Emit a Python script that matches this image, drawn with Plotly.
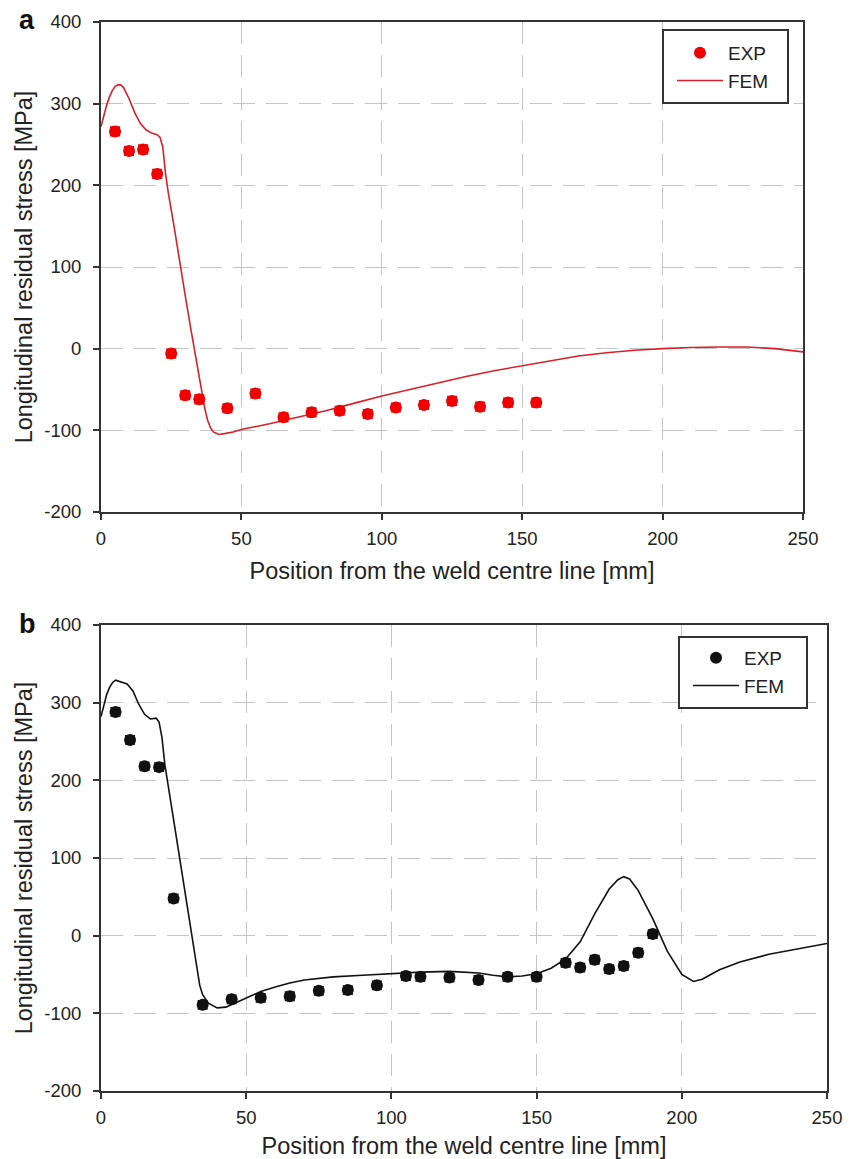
import plotly.graph_objects as go

W, H = 856, 1159

# ---------------- data: panel a ----------------
a_exp_x = [5, 10, 15, 20, 25, 30, 35, 45, 55, 65, 75, 85, 95, 105, 115, 125, 135, 145, 155]
a_exp_y = [266, 242, 244, 214, -6, -57, -62, -73, -55, -84, -78, -76, -80, -72, -69, -64, -71, -66, -66]
a_exp_err = [5] * len(a_exp_x)

a_fem_x = [0, 1, 2, 3, 4, 5, 6, 7, 8, 10, 12, 14, 16, 18, 20, 21, 22, 23, 24, 26, 28, 30, 32, 34, 36, 37, 38, 39, 40,
           42, 44, 47, 50, 60, 70, 80, 90, 100, 110, 120, 130, 140, 150, 160, 170, 180, 190, 200, 210, 220, 230, 240,
           250]
a_fem_y = [272, 286, 298, 308, 316, 321, 323, 323, 320, 306, 289, 276, 268, 264, 262, 259, 247, 214, 190, 150, 106,
           65, 24, -16, -57, -74, -88, -97, -102, -105, -104, -102, -99, -92, -84, -76, -67, -58, -50, -42, -34, -27,
           -21, -15, -9, -5, -2, 0, 1.5, 2, 2, 0, -4]

# ---------------- data: panel b ----------------
b_exp_x = [5, 10, 15, 20, 25, 35, 45, 55, 65, 75, 85, 95, 105, 110, 120, 130, 140, 150, 160, 165, 170, 175, 180, 185, 190]
b_exp_y = [288, 252, 218, 217, 48, -89, -82, -80, -78, -71, -70, -64, -52, -53, -54, -57, -53, -53, -35, -41, -31, -43,
           -39, -22, 2]
b_exp_err = [5] * len(b_exp_x)

b_fem_x = [0, 1, 2, 3, 4, 5, 7, 9, 11, 13, 15, 17, 19, 20, 21, 22, 24, 26, 28, 30, 31, 32, 33, 34, 35, 37, 40, 43, 46,
           50, 55, 60, 65, 70, 80, 90, 100, 110, 120, 130, 135, 140, 145, 150, 155, 160, 165, 170, 175, 178, 180, 182,
           185, 190, 195, 200, 204, 207, 213, 220, 230, 240, 250]
b_fem_y = [282, 298, 311, 320, 326, 329, 327, 324, 315, 298, 285, 279, 280, 275, 255, 220, 173, 125, 78, 30, 5, -20,
           -45, -64, -76, -87, -93, -92, -87, -80, -72, -66, -61, -57, -53, -51, -49, -47, -46, -48, -51, -53, -52,
           -49, -42, -30, -8, 28, 60, 72, 76, 73, 58, 22, -20, -50, -59, -56, -44, -34, -24, -17, -10]

x_ticks = [0, 50, 100, 150, 200, 250]
x_tick_labels = ["0", "50", "100", "150", "200", "250"]
y_ticks = [-200, -100, 0, 100, 200, 300, 400]
y_tick_labels = ["-200", "-100", "0", "100", "200", "300", "400"]

FONT = "Liberation Sans, Arial, sans-serif"
RED_PT = "#f00000"
RED_LN = "#d8202a"
BLK = "#111111"

fig = go.Figure()

fig.add_trace(go.Scatter(x=a_fem_x, y=a_fem_y, mode="lines", name="FEM", line=dict(color=RED_LN, width=1.6),
                         xaxis="x", yaxis="y", legend="legend", legendrank=2))
fig.add_trace(go.Scatter(x=a_exp_x, y=a_exp_y, mode="markers", name="EXP",
                         marker=dict(color=RED_PT, size=12, line=dict(width=0)),
                         error_y=dict(type="data", array=a_exp_err, color=RED_PT, thickness=2, width=5),
                         xaxis="x", yaxis="y", legend="legend", legendrank=1))

fig.add_trace(go.Scatter(x=b_fem_x, y=b_fem_y, mode="lines", name="FEM", line=dict(color=BLK, width=1.6),
                         xaxis="x2", yaxis="y2", legend="legend2", legendrank=2))
fig.add_trace(go.Scatter(x=b_exp_x, y=b_exp_y, mode="markers", name="EXP",
                         marker=dict(color=BLK, size=12, line=dict(width=0)),
                         error_y=dict(type="data", array=b_exp_err, color=BLK, thickness=2, width=5),
                         xaxis="x2", yaxis="y2", legend="legend2", legendrank=1))

def px_x(p):
    return p / W

def px_y(p):
    return 1 - p / H

axis_common = dict(
    showline=True, linecolor="#333333", linewidth=2, mirror=True, automargin=False,
    ticks="outside", ticklen=6, tickwidth=2, tickcolor="#333333",
    showgrid=True, gridcolor="#c4c4c4", gridwidth=1.3, griddash="22px,11px",
    zeroline=False, tickfont=dict(family=FONT, size=18.5, color="#222222"),
    title_font=dict(family=FONT, size=23.5, color="#222222"),
)

xa = dict(axis_common, range=[0, 250], tickmode="array", tickvals=x_ticks, ticktext=x_tick_labels,
          ticklabelstandoff=3, title_standoff=14, title_text="Position from the weld centre line [mm]")
ya = dict(axis_common, range=[-200, 400], tickmode="array", tickvals=y_ticks, ticktext=y_tick_labels,
          ticklabelstandoff=8, title_standoff=5, title_text="Longitudinal residual stress [MPa]")

leg_font = dict(family=FONT, size=19, color="#222222")

fig.update_layout(
    width=W, height=H, margin=dict(l=0, r=0, t=0, b=0, autoexpand=False),
    paper_bgcolor="white", plot_bgcolor="white",
    font=dict(family=FONT, color="#222222"),
    xaxis=dict(xa, domain=[px_x(101), px_x(803)], anchor="y"),
    yaxis=dict(ya, domain=[px_y(512), px_y(22)], anchor="x"),
    xaxis2=dict(xa, domain=[px_x(101), px_x(827)], anchor="y2"),
    yaxis2=dict(ya, domain=[px_y(1091), px_y(625)], anchor="x2"),
    legend=dict(x=px_x(672), y=px_y(34), xanchor="left", yanchor="top", bgcolor="rgba(0,0,0,0)",
                borderwidth=0, font=leg_font, tracegroupgap=0, traceorder="normal", itemwidth=46),
    legend2=dict(x=px_x(688), y=px_y(639), xanchor="left", yanchor="top", bgcolor="rgba(0,0,0,0)",
                 borderwidth=0, font=leg_font, tracegroupgap=0, traceorder="normal", itemwidth=46),
    shapes=[
        dict(type="rect", xref="paper", yref="paper", x0=px_x(663), x1=px_x(788), y0=px_y(103), y1=px_y(30),
             line=dict(color="#333333", width=2), fillcolor="white", layer="above"),
        dict(type="rect", xref="paper", yref="paper", x0=px_x(679), x1=px_x(807), y0=px_y(708), y1=px_y(637),
             line=dict(color="#333333", width=2), fillcolor="white", layer="above"),
    ],
    annotations=[
        dict(text="<b>a</b>", xref="paper", yref="paper", x=px_x(27), y=px_y(20), showarrow=False,
             font=dict(family=FONT, size=27, color="#111111"), xanchor="center", yanchor="middle"),
        dict(text="<b>b</b>", xref="paper", yref="paper", x=px_x(28), y=px_y(624), showarrow=False,
             font=dict(family=FONT, size=27, color="#111111"), xanchor="center", yanchor="middle"),
    ],
)

# remove the browser's default 8px body margin so the 856x1159 figure fills the window exactly
fig.write_html("out.html", config={"displayModeBar": False},
               post_script="document.body.style.margin='0';document.body.style.overflow='hidden';")
